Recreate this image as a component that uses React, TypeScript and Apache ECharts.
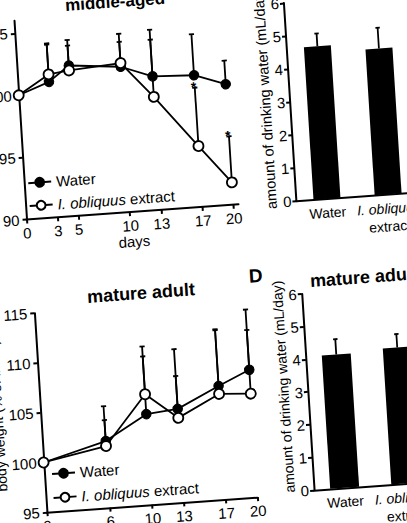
import React, { useEffect, useRef } from "react";
import * as echarts from "echarts";

// ---------- data ----------
// middle-aged body weight (% of initial)
const mdDays = [0, 3, 5, 10, 13, 17, 20];
const mdWater = [100, 100.9, 102.1, 101.7, 100.75, 100.6, 99.7];
const mdWaterTop = [100, 104.0, 104.15, 103.7, 103.7, 103.9, 101.6];
const mdExtract = [100, 101.5, 101.7, 102.0, 99.1, 94.9, 91.8];
const mdExtractTop = [100, 103.9, 103.7, 104.35, 104.5, 99.6, 95.5];
const mdExtractSig = [false, false, false, false, false, true, true];
const mdDayTicks = [0, 3, 5, 10, 13, 17, 20];
const mdWeightTicks = [90, 95, 100, 105];

// mature adult body weight (% of initial)
const maDays = [0, 6, 10, 13, 17, 20];
const maWater = [100, 101.7, 104.1, 104.4, 106.4, 107.8];
const maWaterTop = [100, 105.2, 110.9, 110.4, 112.1, 113.85];
const maExtract = [100, 101.2, 106.1, 103.5, 105.6, 105.4];
const maExtractTop = [100, 103.8, 109.9, 107.7, 112.0, 111.8];
const maExtractSig = [false, false, false, false, false, false];
const maDayTicks = [0, 6, 10, 13, 17, 20];
const maWeightTicks = [95, 100, 105, 110, 115];

// drinking water (mL/day)
const groups = ["Water", "I. obliquus extract"];
const mdDrink = [4.62, 4.42];
const mdDrinkTop = [5.01, 5.05];
const maDrink = [4.08, 4.16];
const maDrinkTop = [4.55, 4.57];
const drinkTicks = [0, 1, 2, 3, 4, 5, 6];

// ---------- layout ----------
const PAD = 40;
const FONT = "'Liberation Sans', Arial, Helvetica, sans-serif";
const BLACK = "#000";

const axisLine = { show: true, onZero: false, lineStyle: { color: BLACK, width: 2 } };
const tickStyle = { color: BLACK, width: 2 };
const numLabel = { color: BLACK, fontSize: 15, fontFamily: FONT };

const legendFmt = (name: string) =>
  name === "I. obliquus extract" ? "{i|I. obliquus} extract" : name;
const italicRich = {
  i: { fontStyle: "italic", fontSize: 15, fontFamily: FONT, color: BLACK, lineHeight: 16 },
};

const lineErr = (ai: number, days: number[], vals: number[], tops: number[], sig: boolean[]) => ({
  type: "custom",
  xAxisIndex: ai,
  yAxisIndex: ai,
  z: 2,
  silent: true,
  data: days.map((d, i) => [d, vals[i], tops[i], sig[i] ? 1 : 0]),
  renderItem: (params: any, api: any) => {
    const x = api.value(0);
    const v = api.value(1);
    const t = api.value(2);
    const s = api.value(3);
    if (!(t > v)) return { type: "group", children: [] };
    const p0 = api.coord([x, v]);
    const p1 = api.coord([x, t]);
    const children: any[] = [
      { type: "line", shape: { x1: p0[0], y1: p0[1], x2: p1[0], y2: p1[1] }, style: { stroke: BLACK, lineWidth: 1.8 } },
      { type: "line", shape: { x1: p1[0] - 2.6, y1: p1[1], x2: p1[0] + 2.6, y2: p1[1] }, style: { stroke: BLACK, lineWidth: 1.8 } },
    ];
    if (s) {
      children.push({
        type: "text",
        x: p1[0] - 1,
        y: p1[1] - 1,
        style: { text: "*", fill: BLACK, fontSize: 14, fontWeight: "bold", fontFamily: FONT, align: "center", verticalAlign: "middle" },
      });
    }
    return { type: "group", children };
  },
});

const barErr = (ai: number, vals: number[], tops: number[]) => ({
  type: "custom",
  xAxisIndex: ai,
  yAxisIndex: ai,
  z: 3,
  silent: true,
  data: vals.map((v, i) => [i, v, tops[i]]),
  renderItem: (params: any, api: any) => {
    const x = api.value(0);
    const p0 = api.coord([x, api.value(1)]);
    const p1 = api.coord([x, api.value(2)]);
    return {
      type: "group",
      children: [
        { type: "line", shape: { x1: p0[0], y1: p0[1], x2: p1[0], y2: p1[1] }, style: { stroke: BLACK, lineWidth: 1.8 } },
        { type: "line", shape: { x1: p1[0] - 2.2, y1: p1[1], x2: p1[0] + 2.2, y2: p1[1] }, style: { stroke: BLACK, lineWidth: 1.8 } },
      ],
    };
  },
});

const waterLine = (ai: number, days: number[], vals: number[]) => ({
  type: "line",
  name: "Water",
  xAxisIndex: ai,
  yAxisIndex: ai,
  z: 4,
  data: days.map((d, i) => [d, vals[i]]),
  symbol: "circle",
  symbolSize: 9.5,
  itemStyle: { color: BLACK, borderColor: BLACK, borderWidth: 1 },
  lineStyle: { color: BLACK, width: 1.8 },
  silent: true,
});

const extractLine = (ai: number, days: number[], vals: number[]) => ({
  type: "line",
  name: "I. obliquus extract",
  xAxisIndex: ai,
  yAxisIndex: ai,
  z: 5,
  data: days.map((d, i) => [d, vals[i]]),
  symbol: "circle",
  symbolSize: 10,
  itemStyle: { color: "#fff", borderColor: BLACK, borderWidth: 1.8 },
  lineStyle: { color: BLACK, width: 1.8 },
  silent: true,
});

const weightY = (gi: number, min: number, max: number, ticks: number[], name: string) => ({
  gridIndex: gi,
  type: "value",
  min,
  max,
  interval: 5,
  axisLine,
  axisTick: { show: true, length: 4, customValues: ticks, lineStyle: tickStyle },
  axisLabel: {
    ...numLabel,
    margin: 7,
    customValues: ticks,
    formatter: (v: number) => (ticks.indexOf(v) >= 0 ? String(v) : ""),
  },
  splitLine: { show: false },
  name,
  nameLocation: "middle",
  nameGap: 31,
  nameTextStyle: { color: BLACK, fontSize: 14, fontFamily: FONT },
});

const dayX = (gi: number, max: number, ticks: number[], name: string) => ({
  gridIndex: gi,
  type: "value",
  min: 0,
  max,
  interval: 1,
  axisLine,
  axisTick: { show: true, length: 4, customValues: ticks, lineStyle: tickStyle },
  axisLabel: {
    ...numLabel,
    margin: 6,
    customValues: ticks,
    formatter: (v: number) => (ticks.indexOf(v) >= 0 ? String(v) : ""),
  },
  splitLine: { show: false },
  name,
  nameLocation: "middle",
  nameGap: 21,
  nameTextStyle: { color: BLACK, fontSize: 15, fontFamily: FONT },
});

const groupX = (gi: number) => ({
  gridIndex: gi,
  type: "category",
  data: groups,
  boundaryGap: true,
  axisLine,
  axisTick: { show: false },
  axisLabel: {
    color: BLACK,
    fontSize: 14,
    fontFamily: FONT,
    lineHeight: 18,
    margin: 5,
    interval: 0,
    formatter: (v: string) => (v === "I. obliquus extract" ? "{i|I. obliquus}\nextract" : v),
    rich: { i: { fontStyle: "italic", fontSize: 14, fontFamily: FONT, color: BLACK, lineHeight: 18 } },
  },
  splitLine: { show: false },
});

const drinkY = (gi: number, nameGap: number, fontSize: number, padding: number[]) => ({
  gridIndex: gi,
  type: "value",
  min: 0,
  max: 6,
  interval: 1,
  axisLine,
  axisTick: { show: true, length: 4, customValues: drinkTicks, lineStyle: tickStyle },
  axisLabel: { ...numLabel, margin: 5, customValues: drinkTicks },
  splitLine: { show: false },
  name: "amount of drinking water (mL/day)",
  nameLocation: "middle",
  nameGap,
  nameTextStyle: { color: BLACK, fontSize, fontFamily: FONT, padding },
});

const legendBase = {
  data: groups,
  orient: "vertical",
  padding: 0,
  itemWidth: 23,
  itemHeight: 11,
  selectedMode: false,
  formatter: legendFmt,
  textStyle: { color: BLACK, fontSize: 15, fontFamily: FONT, lineHeight: 16, rich: italicRich },
};

const titleText = (text: string, x: number, y: number, size: number) => ({
  type: "text",
  x: x + PAD,
  y: y + PAD,
  silent: true,
  style: { text, fill: BLACK, fontSize: size, fontWeight: "bold", fontFamily: FONT, align: "center", verticalAlign: "middle" },
});

const option: any = {
  animation: false,
  backgroundColor: "#fff",
  grid: [
    { left: 29.5 + PAD, top: 7.8 + PAD, width: 212.5, height: 199.2, outerBoundsMode: "none", containLabel: false },
    { left: 31.3 + PAD, top: 301.0 + PAD, width: 211.1, height: 199.4, outerBoundsMode: "none", containLabel: false },
    { left: 300.0 + PAD, top: 9.4 + PAD, width: 122.6, height: 198.3, outerBoundsMode: "none", containLabel: false },
    { left: 299.5 + PAD, top: 300.9 + PAD, width: 122.6, height: 196.4, outerBoundsMode: "none", containLabel: false },
  ],
  xAxis: [dayX(0, 20.5, mdDayTicks, "days"), dayX(1, 20, maDayTicks, ""), groupX(2), groupX(3)],
  yAxis: [
    weightY(0, 90, 106, mdWeightTicks, ""),
    weightY(1, 95, 115, maWeightTicks, "body weight (% of initial)"),
    drinkY(2, 16, 14.6, [0, 0, 0, 10]),
    drinkY(3, 13, 14, [0, 0, 0, 14]),
  ],
  legend: [
    { ...legendBase, left: 32.5 + PAD, top: 162.8 + PAD, itemGap: 7 },
    { ...legendBase, left: 38 + PAD, top: 454.7 + PAD, itemGap: 8 },
  ],
  graphic: [
    titleText("middle-aged", 131.5, -3.8, 17),
    titleText("mature adult", 139.1, 288.5, 18),
    titleText("mature adult", 362.6, 288.6, 18),
    titleText("D", 254.8, 279.5, 19),
  ],
  series: [
    lineErr(0, mdDays, mdWater, mdWaterTop, mdDays.map(() => false)),
    lineErr(0, mdDays, mdExtract, mdExtractTop, mdExtractSig),
    waterLine(0, mdDays, mdWater),
    extractLine(0, mdDays, mdExtract),
    lineErr(1, maDays, maWater, maWaterTop, maDays.map(() => false)),
    lineErr(1, maDays, maExtract, maExtractTop, maExtractSig),
    waterLine(1, maDays, maWater),
    extractLine(1, maDays, maExtract),
    {
      type: "bar",
      name: "drinking water, middle-aged",
      xAxisIndex: 2,
      yAxisIndex: 2,
      data: mdDrink,
      barWidth: 27,
      itemStyle: { color: BLACK },
      silent: true,
      z: 2,
    },
    barErr(2, mdDrink, mdDrinkTop),
    {
      type: "bar",
      name: "drinking water, mature adult",
      xAxisIndex: 3,
      yAxisIndex: 3,
      data: maDrink,
      barWidth: 29,
      itemStyle: { color: BLACK },
      silent: true,
      z: 2,
    },
    barErr(3, maDrink, maDrinkTop),
  ],
};

export default function App() {
  const ref = useRef<HTMLDivElement>(null);
  useEffect(() => {
    if (!ref.current) return;
    const chart = echarts.init(ref.current, null, { renderer: "svg" });
    chart.setOption(option);
    return () => chart.dispose();
  }, []);
  return (
    <div
      style={{
        position: "fixed",
        left: 0,
        top: 0,
        width: 407,
        height: 523,
        overflow: "hidden",
        background: "#fff",
      }}
    >
      <div
        ref={ref}
        style={{
          position: "absolute",
          left: -PAD,
          top: -PAD,
          width: 407 + 2 * PAD,
          height: 523 + 2 * PAD,
          transform: "matrix(0.99744, -0.0715, 0.06279, 0.99803, 0, 0)",
          transformOrigin: "50% 50%",
        }}
      />
    </div>
  );
}
